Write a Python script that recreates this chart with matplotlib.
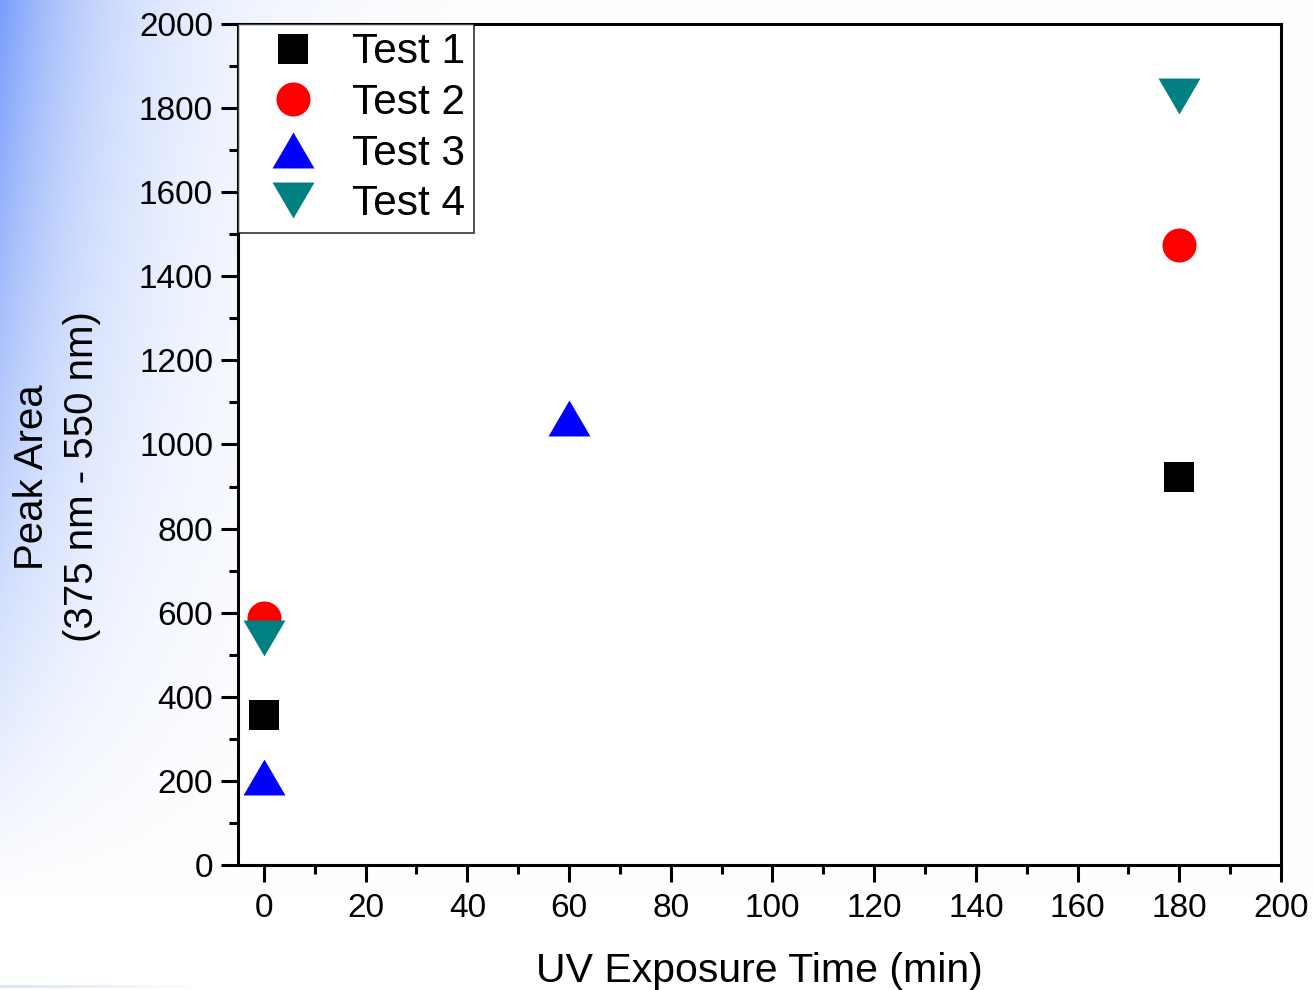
import numpy as np
import matplotlib
matplotlib.use("Agg")
import matplotlib.pyplot as plt
from matplotlib.ticker import MultipleLocator

plt.rcParams["font.family"] = ["Liberation Sans", "DejaVu Sans"]

# peak area values for each test run
test1_time = [0, 180]
test1_area = [357, 923]
test2_time = [0, 180]
test2_area = [587, 1474]
test3_time = [0, 60]
test3_area = [210, 1062]
test4_time = [0, 180]
test4_area = [540, 1828]

W, H = 1313, 990
fig = plt.figure(figsize=(W / 100, H / 100), dpi=100)
fig.patch.set_facecolor("white")

# soft blue wash on the left edge of the slide
xx, yy = np.meshgrid(np.arange(W), np.arange(H))
wt = np.exp(-xx / 115.0) * np.clip(1 - yy / 900.0, 0, 1) ** 1.0
base = np.array([120, 158, 250]) / 255.0
img = 1 - wt[..., None] * (1 - base[None, None, :])
# thin rule along the bottom
line_wt = np.clip(1 - np.arange(W) / 200.0, 0, 1) * 0.35
img[985:988, :, :] = 1 - line_wt[None, :, None] * (1 - np.array([0.55, 0.7, 0.95]))
bg = fig.add_axes([0, 0, 1, 1], zorder=-1)
bg.imshow(img, aspect="auto", extent=(0, W, H, 0), interpolation="bilinear")
bg.axis("off")

ax = fig.add_axes([238 / W, 125 / H, (1281 - 238) / W, (865 - 24) / H])
ax.set_facecolor("white")

tri_up = [(-1, -0.857), (1, -0.857), (0, 0.857)]
tri_down = [(-1, 0.857), (1, 0.857), (0, -0.857)]

ax.plot(test1_time, test1_area, ls="none", marker="s", ms=22.3,
        color="black", mew=0, label="Test 1")
ax.plot(test2_time, test2_area, ls="none", marker="o", ms=24.5,
        color="#ff0000", mew=0, label="Test 2")
ax.plot(test3_time, test3_area, ls="none", marker=tri_up, ms=30.2,
        color="#0000ff", mew=0, label="Test 3")
ax.plot(test4_time, test4_area, ls="none", marker=tri_down, ms=30.2,
        color="#008080", mew=0, label="Test 4")

ax.set_xlim(-5.1, 200)
ax.set_ylim(0, 2000)
ax.xaxis.set_major_locator(MultipleLocator(20))
ax.xaxis.set_minor_locator(MultipleLocator(10))
ax.yaxis.set_major_locator(MultipleLocator(200))
ax.yaxis.set_minor_locator(MultipleLocator(100))

for sp in ax.spines.values():
    sp.set_linewidth(2.2)
ax.tick_params(which="major", direction="out", length=12, width=2.2,
               labelsize=24, pad=6)
ax.tick_params(axis="x", which="major", pad=8)
ax.tick_params(which="minor", direction="out", length=6.5, width=2.2)
ax.tick_params(axis="x", which="both", top=False)
ax.tick_params(axis="y", which="both", right=False)

ax.set_xlabel("UV Exposure Time (min)", fontsize=29.5, labelpad=20)
fig.text(57 / W, 1 - 477 / H, "Peak Area\n(375 nm - 550 nm)", rotation=90,
         ha="center", va="center", ma="center", fontsize=29,
         linespacing=1.42)

leg = ax.legend(loc="upper left", bbox_to_anchor=(0, 1), borderaxespad=0,
                fontsize=30.5, frameon=True, fancybox=False, numpoints=1,
                borderpad=0.2, handlelength=2.2, handletextpad=0.3,
                labelspacing=0.25)
leg.get_frame().set_edgecolor("black")
leg.get_frame().set_linewidth(1.2)

fig.savefig("out.png", dpi=100)
